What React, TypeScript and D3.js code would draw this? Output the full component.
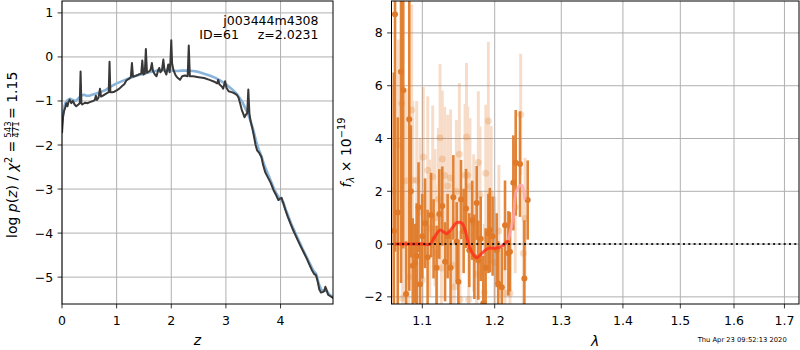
import React from "react";
import * as d3 from "d3";

// ---------- Left panel: log p(z) ----------
const zDark = [0.00,0.02,0.04,0.06,0.08,0.10,0.12,0.14,0.17,0.20,0.23,0.26,0.30,0.325,0.34,0.355,0.37,0.42,0.47,0.52,0.57,0.60,0.62,0.64,0.67,0.695,0.715,0.75,0.80,0.855,0.87,0.885,0.92,0.96,1.00,1.05,1.10,1.14,1.18,1.22,1.26,1.28,1.30,1.35,1.40,1.45,1.47,1.49,1.515,1.535,1.555,1.59,1.62,1.645,1.665,1.70,1.73,1.76,1.78,1.80,1.83,1.855,1.875,1.91,1.945,1.97,1.985,2.00,2.015,2.04,2.08,2.12,2.16,2.20,2.25,2.30,2.32,2.34,2.40,2.50,2.60,2.70,2.80,2.84,2.86,2.88,2.93,2.95,2.985,3.01,3.05,3.10,3.15,3.20,3.23,3.26,3.29,3.32,3.34,3.37,3.39,3.41,3.43,3.45,3.48,3.51,3.54,3.57,3.61,3.65,3.68,3.72,3.77,3.82,3.87,3.92,3.96,3.99,4.02,4.05,4.09,4.13,4.18,4.23,4.30,4.36,4.42,4.48,4.53,4.57,4.61,4.65,4.68,4.71,4.74,4.77,4.80,4.82,4.84,4.87,4.92,4.97];
const pDark = [-1.73,-1.35,-1.22,-1.15,-1.05,-1.12,-1.02,-0.97,-1.05,-1.00,-1.08,-1.12,-1.08,-1.05,-0.33,-1.05,-1.08,-1.04,-1.05,-1.02,-1.00,-0.98,-0.88,-0.98,-0.92,-0.72,-0.90,-0.88,-0.84,-0.80,-0.11,-0.80,-0.80,-0.79,-0.76,-0.72,-0.66,-0.62,-0.53,-0.50,-0.46,-0.14,-0.45,-0.43,-0.40,-0.38,-0.08,-0.40,-0.38,0.18,-0.36,-0.33,-0.30,-0.14,-0.32,-0.40,-0.44,-0.30,-0.25,-0.35,-0.30,-0.06,-0.30,-0.40,-0.17,-0.35,-0.10,0.38,-0.15,-0.30,-0.42,-0.48,-0.52,-0.44,-0.42,-0.44,0.26,-0.44,-0.44,-0.46,-0.48,-0.52,-0.57,-0.60,-0.52,-0.62,-0.68,-0.72,-0.55,-0.70,-0.78,-0.80,-0.82,-0.86,-0.92,-1.05,-1.20,-1.30,-1.37,-1.30,-1.28,-0.74,-1.28,-1.45,-1.60,-1.78,-1.98,-2.12,-2.18,-2.27,-2.45,-2.62,-2.74,-2.86,-3.02,-3.14,-3.25,-3.22,-3.20,-3.32,-3.48,-3.62,-3.78,-3.93,-4.12,-4.28,-4.43,-4.58,-4.72,-4.83,-4.92,-4.96,-5.10,-5.28,-5.35,-5.34,-5.32,-5.22,-5.28,-5.40,-5.44,-5.48];

const zBlue = [0.00,0.03,0.06,0.10,0.15,0.20,0.25,0.30,0.35,0.40,0.45,0.50,0.55,0.60,0.70,0.80,0.90,1.00,1.10,1.20,1.30,1.40,1.50,1.60,1.70,1.80,1.90,2.00,2.10,2.20,2.30,2.40,2.50,2.60,2.70,2.80,2.90,3.00,3.10,3.20,3.30,3.40,3.45,3.50,3.55,3.60,3.65,3.70,3.80,3.90,4.00,4.05,4.10,4.20,4.30,4.40,4.50,4.60,4.65,4.70,4.75,4.80,4.85,4.90,4.97];
const pBlue = [-1.50,-1.20,-1.05,-0.98,-0.95,-0.98,-1.00,-0.94,-0.88,-0.86,-0.88,-0.88,-0.86,-0.84,-0.80,-0.75,-0.67,-0.60,-0.55,-0.50,-0.45,-0.41,-0.38,-0.35,-0.32,-0.30,-0.30,-0.31,-0.32,-0.31,-0.31,-0.32,-0.34,-0.38,-0.42,-0.47,-0.54,-0.62,-0.72,-0.84,-1.02,-1.28,-1.45,-1.65,-1.90,-2.10,-2.25,-2.45,-2.75,-3.05,-3.25,-3.30,-3.48,-3.80,-4.08,-4.35,-4.60,-4.85,-4.92,-5.15,-5.30,-5.30,-5.32,-5.40,-5.46];

const zTicks = [0, 1, 2, 3, 4];
const pTicks = [1, 0, -1, -2, -3, -4, -5];

// ---------- Right panel: spectrum ----------
const waveDark = [1.0630,1.0645,1.0680,1.0722,1.0751,1.0787,1.0829,1.0850,1.0874,1.0904,1.0926,1.0950,1.0969,1.1000,1.1036,1.1070,1.1116,1.1150,1.1190,1.1227,1.1267,1.1305,1.1340,1.1380,1.1418,1.1464,1.1487,1.1524,1.1560,1.1594,1.1639,1.1680,1.1710,1.1743,1.1766,1.1800,1.1837,1.1870,1.1909,1.1930,1.1970,1.2029,1.2051,1.2103,1.2150,1.2199,1.2222,1.2272,1.2307,1.2371,1.2436,1.2486];
const fluxDark = [0.5,8.71,1.2,6.53,5.83,-1.89,4.73,2.0,-0.82,-0.73,-0.45,1.4,-1.52,0.3,0.79,-0.5,1.10,0.2,-0.9,1.14,1.44,-0.67,0.3,-0.9,1.77,0.09,-1.43,1.69,0.5,1.35,-0.23,0.9,-0.48,1.56,-0.61,0.2,-2.24,-0.9,0.40,0.53,0.3,-0.23,-1.49,-1.64,0.71,-0.35,-0.29,2.32,3.08,3.03,-1.30,1.67];
const errDark = [6,9,3.6,8,6,2.0,6.5,2.5,1.8,1.5,2.0,1.7,1.6,1.6,1.7,1.8,1.6,1.5,1.6,1.7,1.5,1.5,1.6,1.4,1.6,1.5,1.6,1.5,1.6,1.5,1.4,1.5,1.6,1.4,1.5,1.6,1.8,1.5,1.5,1.6,1.5,1.4,1.6,1.5,1.7,1.6,1.5,1.8,2.0,2.0,2.2,1.5];

const waveLight = [1.0620,1.0686,1.0730,1.0743,1.0790,1.0820,1.0860,1.0874,1.0926,1.0969,1.1000,1.1013,1.1072,1.1100,1.1138,1.1170,1.1193,1.1215,1.1237,1.1255,1.1267,1.1300,1.1340,1.1380,1.1405,1.1431,1.1460,1.1501,1.1510,1.1580,1.1600,1.1617,1.1630,1.1649,1.1700,1.1743,1.1766,1.1790,1.1850,1.1872,1.1909,1.1949,1.2000,1.2060,1.2150,1.2222,1.2300,1.2381,1.2421,1.2445];
const fluxLight = [2.0,3.75,5.34,-2.05,2.4,-1.24,5.08,2.42,2.42,1.22,-1.36,3.3,2.8,0.6,2.55,1.0,-0.35,1.7,4.03,-0.91,3.22,2.6,2.2,2.5,-0.8,-1.62,2.0,3.4,-2.1,2.61,4.06,2.61,-2.1,2.17,0.8,-1.14,3.09,1.86,-1.83,2.68,4.66,1.88,-0.7,0.5,-1.84,-1.86,1.4,4.91,-0.35,0.97];
const errLight = [4,4,4,3.5,3.5,3,4,3,3,2.8,2.8,2.65,2.8,2.6,2.7,2.6,2.6,2.7,2.8,2.5,2.6,2.6,2.7,2.6,2.5,2.6,2.7,2.7,2.6,2.7,2.8,2.6,2.5,2.6,2.6,2.6,2.7,2.6,2.6,2.6,3.0,2.6,2.5,2.5,2.5,2.5,2.5,2.3,2.4,2.3];

const modelWave = [1.064,1.080,1.100,1.1102,1.116,1.1237,1.1290,1.1328,1.140,1.1464,1.1534,1.1580,1.1649,1.1743,1.1814,1.1909,1.2005,1.2103,1.2199];
const modelFlux = [0,0,0,0,0.25,0.53,0.45,0.40,0.60,0.81,0.80,0.53,-0.16,-0.52,-0.35,-0.16,-0.16,-0.08,0.15];
const modelWave2 = [1.2199,1.2272,1.2321,1.2396,1.2445];
const modelFlux2 = [0.15,1.03,2.05,2.23,1.67];

const lamTicks = [1.1, 1.2, 1.3, 1.4, 1.5, 1.6, 1.7];
const fTicks = [-2, 0, 2, 4, 6, 8];

const FONT = "DejaVu Sans, sans-serif";
const fmtNum = (v: number) => (v < 0 ? "\u2212" + Math.abs(v) : String(v));

export default function App() {
  const L = { x0: 62, x1: 333, y0: 1, y1: 304 };
  const R = { x0: 391.5, x1: 799, y0: 1, y1: 304 };
  const xL = d3.scaleLinear().domain([0, 4.96]).range([L.x0, L.x1]);
  const yL = d3.scaleLinear().domain([-5.61, 1.27]).range([L.y1, L.y0]);
  const xR = d3.scaleLog().domain([1.06, 1.73]).range([R.x0, R.x1]);
  const yR = d3.scaleLinear().domain([-2.27, 9.21]).range([R.y1, R.y0]);

  const lineL = d3.line<[number, number]>().x((d) => xL(d[0])).y((d) => yL(d[1]));
  const lineR = d3.line<[number, number]>().x((d) => xR(d[0])).y((d) => yR(d[1])).curve(d3.curveCatmullRom.alpha(0.5));

  const darkPath = lineL(zDark.map((z, i) => [z, pDark[i]] as [number, number])) || "";
  const bluePath = lineL(zBlue.map((z, i) => [z, pBlue[i]] as [number, number])) || "";
  const modelPath = lineR(modelWave.map((w, i) => [w, modelFlux[i]] as [number, number])) || "";
  const modelPath2 = lineR(modelWave2.map((w, i) => [w, modelFlux2[i]] as [number, number])) || "";

  const orange = "#e07a28";
  const grid = "#b0b0b0";
  const tickLen = 4.4;
  const fs = 12.5;

  return (
    <svg
      width={800}
      height={350}
      style={{ position: "absolute", left: 0, top: 0, background: "#fff" }}
      fontFamily={FONT}
    >
      <defs>
        <clipPath id="clipL">
          <rect x={L.x0} y={L.y0} width={L.x1 - L.x0} height={L.y1 - L.y0} />
        </clipPath>
        <clipPath id="clipR">
          <rect x={R.x0} y={R.y0} width={R.x1 - R.x0} height={R.y1 - R.y0} />
        </clipPath>
      </defs>
      <rect x={0} y={0} width={800} height={350} fill="#fff" />

      {/* ===== Left panel ===== */}
      <g>
        {zTicks.map((t) => (
          <line key={"gx" + t} x1={xL(t)} x2={xL(t)} y1={L.y0} y2={L.y1} stroke={grid} strokeWidth={1} />
        ))}
        {pTicks.map((t) => (
          <line key={"gy" + t} x1={L.x0} x2={L.x1} y1={yL(t)} y2={yL(t)} stroke={grid} strokeWidth={1} />
        ))}
        <g clipPath="url(#clipL)">
          <path d={bluePath} fill="none" stroke="#8ab4da" strokeWidth={2.6} strokeLinejoin="round" />
          <path d={darkPath} fill="none" stroke="#383838" strokeWidth={2} strokeLinejoin="round" />
        </g>
        <rect x={L.x0} y={L.y0} width={L.x1 - L.x0} height={L.y1 - L.y0} fill="none" stroke="#000" strokeWidth={1} />
        {zTicks.map((t) => (
          <g key={"tx" + t}>
            <line x1={xL(t)} x2={xL(t)} y1={L.y1} y2={L.y1 + tickLen} stroke="#000" strokeWidth={0.8} />
            <text x={xL(t)} y={325} fontSize={fs} textAnchor="middle">{fmtNum(t)}</text>
          </g>
        ))}
        {pTicks.map((t) => (
          <g key={"ty" + t}>
            <line x1={L.x0 - tickLen} x2={L.x0} y1={yL(t)} y2={yL(t)} stroke="#000" strokeWidth={0.8} />
            <text x={L.x0 - 8.8} y={yL(t) + 4.5} fontSize={fs} textAnchor="end">{fmtNum(t)}</text>
          </g>
        ))}
        <text x={318.5} y={24.5} fontSize={fs} textAnchor="end">j003444m4308</text>
        <text x={199.3} y={39.3} fontSize={fs} textAnchor="start">ID=61</text>
        <text x={318.5} y={39.3} fontSize={fs} textAnchor="end">z=2.0231</text>
        <text x={(L.x0 + L.x1) / 2} y={345} fontSize={14} fontStyle="italic" textAnchor="middle">z</text>
        <g transform="translate(17,238) rotate(-90)">
          <text x={0} y={0} fontSize={14} textAnchor="start">
            <tspan>log </tspan>
            <tspan fontStyle="italic">p</tspan>
            <tspan>(</tspan>
            <tspan fontStyle="italic">z</tspan>
            <tspan>) / </tspan>
            <tspan fontStyle="italic">χ</tspan>
            <tspan fontSize={9.8} dy={-5.5}>2</tspan>
            <tspan dy={5.5}> =</tspan>
          </text>
          <text x={108.5} y={-6.2} fontSize={8.5} textAnchor="middle">543</text>
          <line x1={101} x2={116} y1={-4.4} y2={-4.4} stroke="#000" strokeWidth={0.7} />
          <text x={108.5} y={1.8} fontSize={8.5} textAnchor="middle">471</text>
          <text x={119} y={0} fontSize={14} textAnchor="start">= 1.15</text>
        </g>
      </g>

      {/* ===== Right panel ===== */}
      <g>
        {lamTicks.map((t) => (
          <line key={"rgx" + t} x1={xR(t)} x2={xR(t)} y1={R.y0} y2={R.y1} stroke={grid} strokeWidth={1} />
        ))}
        {fTicks.map((t) => (
          <line key={"rgy" + t} x1={R.x0} x2={R.x1} y1={yR(t)} y2={yR(t)} stroke={grid} strokeWidth={1} />
        ))}
        <g clipPath="url(#clipR)">
          <g opacity={0.25}>
            {waveLight.map((w, i) => (
              <line key={"lb" + i} x1={xR(w)} x2={xR(w)} y1={yR(fluxLight[i] - errLight[i])} y2={yR(fluxLight[i] + errLight[i])} stroke={orange} strokeWidth={3} />
            ))}
          </g>
          {waveLight.map((w, i) => (
            <circle key={"lp" + i} cx={xR(w)} cy={yR(fluxLight[i])} r={3.5} fill={orange} opacity={0.25} />
          ))}
          {waveDark.map((w, i) => (
            <line key={"db" + i} x1={xR(w)} x2={xR(w)} y1={yR(fluxDark[i] - errDark[i])} y2={yR(fluxDark[i] + errDark[i])} stroke={orange} strokeWidth={2.6} opacity={0.92} />
          ))}
          {waveDark.map((w, i) => (
            <circle key={"dp" + i} cx={xR(w)} cy={yR(fluxDark[i])} r={3} fill={orange} />
          ))}
          <path d={modelPath} fill="none" stroke="#ff2a1a" strokeWidth={3} opacity={0.8} strokeLinejoin="round" />
          <path d={modelPath2} fill="none" stroke="#ffa8b4" strokeWidth={3} opacity={0.8} strokeLinejoin="round" />
          <line x1={R.x0} x2={R.x1} y1={yR(0)} y2={yR(0)} stroke="#000" strokeWidth={2} strokeDasharray="2,3.3" opacity={0.85} />
        </g>
        <rect x={R.x0} y={R.y0} width={R.x1 - R.x0} height={R.y1 - R.y0} fill="none" stroke="#000" strokeWidth={1} />
        {lamTicks.map((t) => (
          <g key={"rtx" + t}>
            <line x1={xR(t)} x2={xR(t)} y1={R.y1} y2={R.y1 + tickLen} stroke="#000" strokeWidth={0.8} />
            <text x={xR(t)} y={325} fontSize={fs} textAnchor="middle">{t.toFixed(1)}</text>
          </g>
        ))}
        {fTicks.map((t) => (
          <g key={"rty" + t}>
            <line x1={R.x0 - tickLen} x2={R.x0} y1={yR(t)} y2={yR(t)} stroke="#000" strokeWidth={0.8} />
            <text x={R.x0 - 8.8} y={yR(t) + 4.5} fontSize={fs} textAnchor="end">{fmtNum(t)}</text>
          </g>
        ))}
        <text x={(R.x0 + R.x1) / 2} y={346} fontSize={14} fontStyle="italic" textAnchor="middle">λ</text>
        <g transform="translate(350.5,152.5) rotate(-90)">
          <text x={0} y={0} fontSize={14} textAnchor="middle">
            <tspan fontStyle="italic">f</tspan>
            <tspan fontSize={9.8} fontStyle="italic" dy={3}>λ</tspan>
            <tspan dy={-3}> × 10</tspan>
            <tspan fontSize={9.8} dy={-6}>−19</tspan>
          </text>
        </g>
        <text x={786.7} y={341.7} fontSize={6.75} textAnchor="end">Thu Apr 23 09:52:13 2020</text>
      </g>
    </svg>
  );
}
